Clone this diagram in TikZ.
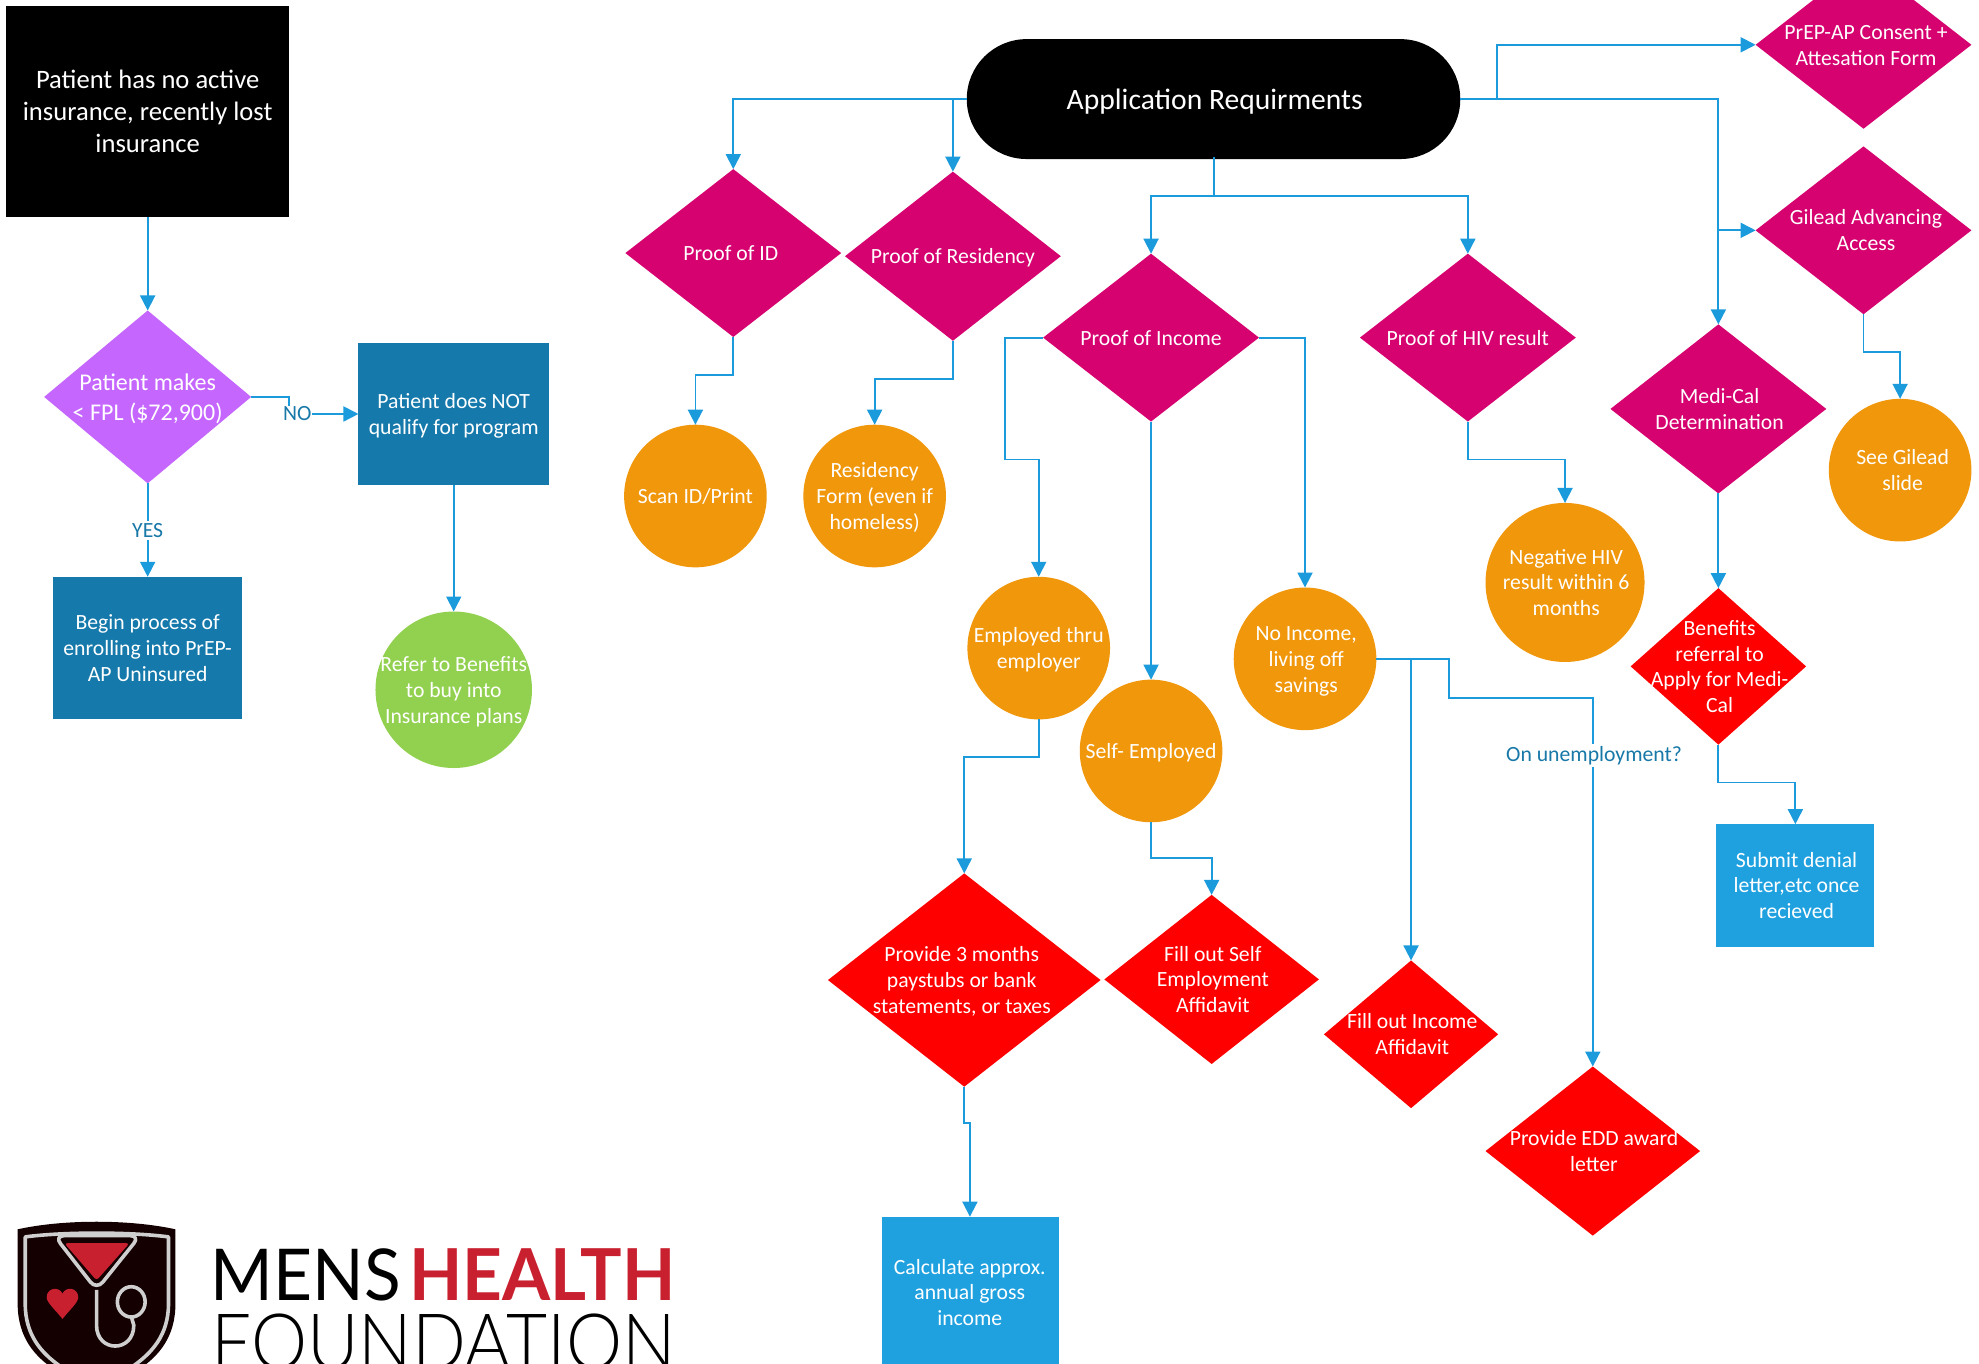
\documentclass[tikz,border=0pt]{standalone}
\usepackage{fontspec}
\setmainfont{Carlito}
\newfontfamily\logofont{Lato}
\newfontfamily\logolight{Lato Light}
\usetikzlibrary{shapes.geometric,arrows.meta}
\definecolor{cblack}{HTML}{000000}
\definecolor{cpurple}{HTML}{C566FF}
\definecolor{cteal}{HTML}{1579AB}
\definecolor{cgreen}{HTML}{92D050}
\definecolor{cmag}{HTML}{D60270}
\definecolor{corange}{HTML}{F0970C}
\definecolor{cred}{HTML}{FF0000}
\definecolor{csky}{HTML}{1FA1E0}
\definecolor{cline}{HTML}{1B9BDB}
\definecolor{clabel}{HTML}{1878A8}
\definecolor{chealth}{HTML}{C8202F}
\definecolor{cring}{HTML}{CFCFCF}
\newcommand{\zt}[2][0]{\makebox[0pt]{\hspace{#1pt}\smash{\raisebox{-.36em}{\begin{tabular}[c]{@{}c@{}}#2\end{tabular}}}}}
\tikzset{
  x=0.63105pt,y=-0.63105pt,
  base/.style={inner sep=0pt,outer sep=0pt,text=white,font=\fontsize{10.85}{12.9}\selectfont},
  dia/.style 2 args={base,diamond,minimum width=#1*0.63105pt,minimum height=#2*0.63105pt},
  box/.style 2 args={base,rectangle,minimum width=#1*0.63105pt,minimum height=#2*0.63105pt},
  disc/.style={base,circle,minimum size=#1*0.63105pt},
  lab/.style={inner sep=1.2pt,fill=white,text=clabel,font=\fontsize{10.85}{12.9}\selectfont},
  link/.style={draw=cline,line width=0.9pt,-{Triangle[length=7.5pt,width=7.5pt]}},
  plain/.style={draw=cline,line width=0.9pt},
  ring/.style={draw=cring,line width=1.8pt,line join=round},
  logotext/.style={inner sep=0pt,outer sep=0pt,anchor=north west},
}
\begin{document}
\begin{tikzpicture}
\useasboundingbox (0,0) rectangle (1568,1080);
\clip (0,0) rectangle (1568,1080);
% left column
\node[box={224}{167},fill=cblack,font=\fontsize{13.3}{16}\selectfont] (start) at (117,88.5) {\zt{Patient has no active\\insurance, recently lost\\insurance}};
\node[dia={164}{137},fill=cpurple,font=\fontsize{12}{14.6}\selectfont] (fpl) at (117,314.5) {\zt{Patient makes\\< FPL (\$72,900)}};
\node[box={151}{112},fill=cteal] (notq) at (359.5,328) {\zt{Patient does NOT\\qualify for program}};
\node[box={150}{113},fill=cteal] (begin) at (117,513.5) {\zt{Begin process of\\enrolling into PrEP-\\AP Uninsured}};
\node[disc=124,fill=cgreen] (refer) at (359.5,546.5) {\zt{Refer to Benefits\\to buy into\\Insurance plans}};
% top
\node[box={391}{95},fill=cblack,rounded corners=29.9pt,font=\fontsize{14.8}{17}\selectfont] (app) at (961.5,78.5) {\zt[1.2]{Application Requirments}};
\node[dia={171}{133},fill=cmag] (pid) at (581,200.5) {\zt[-2.5]{Proof of ID}};
\node[dia={171}{134},fill=cmag] (pres) at (755,203) {\zt{Proof of Residency}};
\node[dia={171}{133},fill=cmag] (pinc) at (912,267.5) {\zt{Proof of Income}};
\node[dia={171}{133},fill=cmag] (phiv) at (1163,267.5) {\zt{Proof of HIV result}};
\node[dia={171}{133},fill=cmag] (consent) at (1476.5,35.5) {\zt[2.5]{PrEP-AP Consent +\\Attesation Form}};
\node[dia={171}{133},fill=cmag] (gilead) at (1476.5,182.5) {\zt[2.5]{Gilead Advancing\\Access}};
\node[dia={171}{134},fill=cmag] (medi) at (1361.5,324) {\zt[1.2]{Medi-Cal\\Determination}};
% circles
\node[disc=113,fill=corange] (scan) at (551,393) {\zt{Scan ID/Print}};
\node[disc=113,fill=corange] (resf) at (693,393) {\zt{Residency\\Form (even if\\homeless)}};
\node[disc=113,fill=corange] (seeg) at (1505.5,372.5) {\zt[2.5]{See Gilead\\slide}};
\node[disc=126,fill=corange] (neg) at (1240,461.5) {\zt[1.2]{Negative HIV\\result within 6\\months}};
\node[disc=113,fill=corange] (emp) at (823,513.5) {\zt{Employed thru\\employer}};
\node[disc=113,fill=corange] (self) at (912,595) {\zt{Self- Employed}};
\node[disc=113,fill=corange] (noinc) at (1034,522) {\zt[1.2]{No Income,\\living off\\savings}};
% red
\node[dia={139}{124},fill=cred] (ben) at (1361.5,528) {\zt[1.2]{Benefits\\referral to\\Apply for Medi-\\Cal}};
\node[dia={216}{169},fill=cred] (stubs) at (764,776.5) {\zt[-2.5]{Provide 3 months\\paystubs or bank\\statements, or taxes}};
\node[dia={170}{134},fill=cred] (fself) at (960,776) {\zt[1.2]{Fill out Self\\Employment\\Affidavit}};
\node[dia={138}{117},fill=cred] (finc) at (1118,819.5) {\zt[1.2]{Fill out Income\\Affidavit}};
\node[dia={170}{134},fill=cred] (edd) at (1262,912) {\zt[1.2]{Provide EDD award\\letter}};
% sky boxes
\node[box={125}{97},fill=csky] (sub) at (1422.5,701.5) {\zt[1.2]{Submit denial\\letter,etc once\\recieved}};
\node[box={140}{120},fill=csky] (calc) at (769,1024) {\zt[-0.8]{Calculate approx.\\annual gross\\income}};
% connectors left
\draw[link] (start) -- (fpl);
\draw[link] (fpl.south) -- node[lab]{YES} (begin.north);
\coordinate (nomid) at (229,328);
\draw[plain] (fpl.east) -- (229,314.5) -- (nomid);
\draw[link] (nomid) -- (notq.west);
\node[lab,inner sep=0.5pt] (nolabel) at (235.5,328) {NO};
\draw[link] (notq) -- (refer);
% from application
\draw[link] (app.west) -- (581,78.5) -- (pid.north);
\draw[link] (app.west) -- (755,78.5) -- (pres.north);
\coordinate (stem) at (962,155);
\coordinate (stemtop) at (962,124);
\draw[plain] (stemtop) -- (stem);
\draw[link] (stem) -- (912,155) -- (pinc.north);
\draw[link] (stem) -- (1163,155) -- (phiv.north);
\draw[link] (app.east) -- (1186,78.5) -- (1186,35.5) -- (consent.west);
\draw[link] (app.east) -- (1361.5,78.5) -- (medi.north);
\coordinate (gilstart) at (1361.5,182.5);
\draw[link] (gilstart) -- (gilead.west);
% proofs
\draw[link] (pid.south) -- (581,297) -- (551,297) -- (scan.north);
\draw[link] (pres.south) -- (755,300) -- (693,300) -- (resf.north);
\draw[link] (pinc.west) -- (796,267.5) -- (796,364) -- (823,364) -- (emp.north);
\draw[link] (pinc.south) -- (self.north);
\draw[link] (pinc.east) -- (1034,267.5) -- (noinc.north);
\draw[link] (phiv.south) -- (1163,364) -- (1240,364) -- (neg.north);
\draw[link] (gilead.south) -- (1476.5,279) -- (1505.5,279) -- (seeg.north);
\draw[link] (medi.south) -- (ben.north);
\draw[link] (ben.south) -- (1361.5,620) -- (1422.5,620) -- (sub.north);
\draw[link] (emp.south) -- (823,600) -- (764,600) -- (stubs.north);
\draw[link] (self.south) -- (912,680) -- (960,680) -- (fself.north);
\draw[link] (noinc.east) -- (1118,522) -- (finc.north);
\draw[link] (noinc.east) -- (1148,522) -- (1148,553) -- (1262,553) -- (edd.north);
\node[lab] (unemp) at (1263,598.5) {On unemployment?};
\draw[link] (stubs.south) -- (764,890) -- (768.5,890) -- (768.5,964);
% logo
\fill[black!92!red] (14,974) .. controls (50,966) and (103,966) .. (139,974) -- (139,1033)
  .. controls (139,1060) and (125,1075) .. (110,1085) -- (76.5,1105) -- (43,1085)
  .. controls (28,1075) and (14,1060) .. (14,1033) -- cycle;
\draw[ring] (20,1033) -- (20,980) .. controls (50,976) and (103,976) .. (133.5,980) -- (133.5,1033)
  .. controls (133.5,1058) and (120,1072) .. (106,1082);
\draw[ring] (20,1033) .. controls (20,1058) and (33,1072) .. (47,1082);
\draw[ring,rounded corners=5pt] (76.5,1022) -- (43,979) -- (111,979) -- cycle;
\draw[ring] (76.5,1022) -- (76.5,1050) .. controls (76.5,1072) and (106,1072) .. (106,1050) -- (104,1043);
\draw[ring] (104,1031.5) ellipse [x radius=11,y radius=12];
\fill[chealth,rounded corners=1.5pt] (51,985) -- (102.6,985) -- (76.5,1014.5) -- cycle;
\fill[chealth] (49.5,1045) .. controls (44,1038) and (37,1032) .. (37,1028) .. controls (37,1020) and (47,1019) .. (49.5,1025)
  .. controls (52,1019) and (62,1020) .. (62,1028) .. controls (62,1032) and (55,1038) .. (49.5,1045) -- cycle;
\node[logotext] (mens) at (167,989) {\resizebox{95pt}{25.9pt}{\logofont MENS}};
\node[logotext,text=chealth] (health) at (324.5,989) {\resizebox{133pt}{25.9pt}{\logofont\bfseries HEALTH}};
\node[logotext] (found) at (167.5,1041) {\resizebox{232pt}{27.8pt}{\logolight FOUNDATION}};
\end{tikzpicture}
\end{document}
